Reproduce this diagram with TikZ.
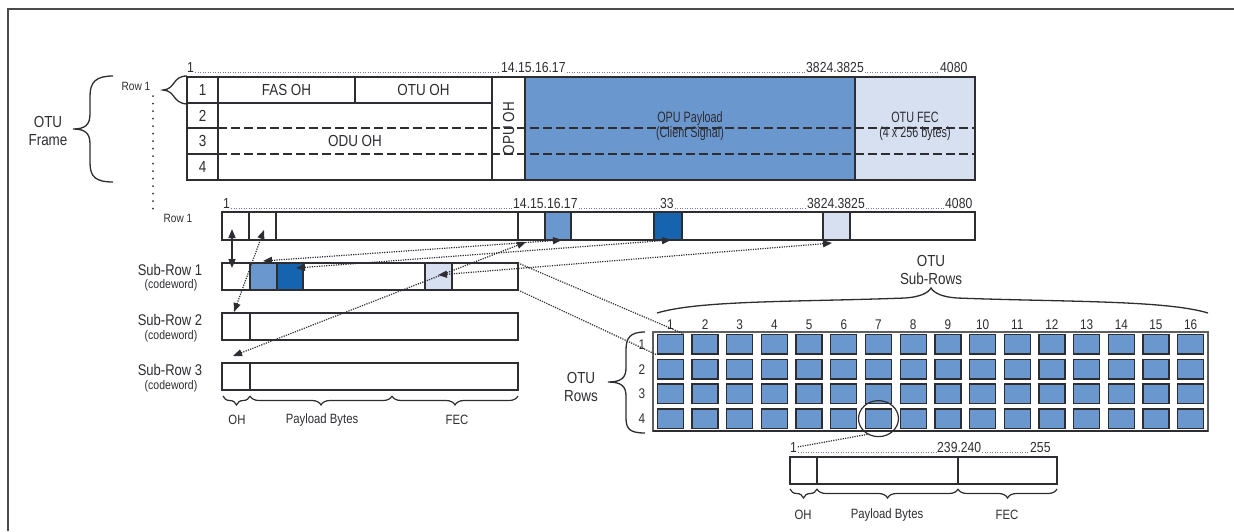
\documentclass[tikz,border=0pt]{standalone}
\usepackage{fontspec}
\setmainfont{Liberation Sans}[FakeStretch=0.84]
\newfontfamily\condfont{Liberation Sans}[FakeStretch=0.72]
\usetikzlibrary{arrows.meta,decorations.pathreplacing,shapes.geometric}
\definecolor{payblue}{RGB}{107,151,207}
\definecolor{darkblue}{RGB}{22,100,176}
\definecolor{paleblue}{RGB}{214,224,241}
\definecolor{ink}{RGB}{45,45,50}
\definecolor{dotc}{RGB}{120,115,170}
\definecolor{framec}{RGB}{75,75,75}
\definecolor{gridc}{RGB}{95,95,95}
\newcommand\mybox[6]{%
  \node[#6, minimum width={#4pt-#2pt}, minimum height={#5pt-#3pt}] (#1) at ({(#2+#4)/2},{(#3+#5)/2}) {};}
\begin{document}
\begin{tikzpicture}[x=1pt,y=-1pt,
  >={Triangle[length=9pt,width=7pt]},
  boxst/.style={draw=ink, line width=1.3pt, inner sep=0pt, outer sep=0pt, fill=white},
  gcell/.style={draw=ink, line width=1.3pt, fill=payblue, inner sep=0pt, minimum width=26pt, minimum height=19.5pt},
  txt/.style={inner sep=0pt, text=ink, font=\fontsize{16}{18}\selectfont},
  ctxt/.style={inner sep=0pt, text=ink, align=center, font=\condfont\fontsize{15}{15}\selectfont},
  numl/.style={inner sep=0pt, text=ink, font=\fontsize{14.5}{16}\selectfont},
  rowl/.style={inner sep=0pt, text=ink, font=\fontsize{12}{14}\selectfont},
  subl/.style={inner sep=0pt, text=ink, font=\fontsize{15.5}{17}\selectfont},
  codel/.style={inner sep=0pt, text=ink, font=\fontsize{12.5}{14}\selectfont},
  smalll/.style={inner sep=0pt, text=ink, font=\fontsize{13.5}{15}\selectfont},
  gnum/.style={inner sep=0pt, text=ink, font=\fontsize{14}{16}\selectfont},
  dotline/.style={draw=dotc, line width=1pt, dash pattern=on 1pt off 1.5pt, shorten <=1pt, shorten >=1pt},
  dotst/.style={draw=ink, line width=1.2pt, dash pattern=on 1.2pt off 1.2pt},
  dashst/.style={draw=ink, line width=1.3pt, dash pattern=on 9pt off 4pt},
  bracest/.style={draw=ink, line width=1.3pt},
  dbrace/.style={draw=ink, line width=1.2pt, decorate, decoration={brace, mirror, amplitude=9pt}},
  vdots/.style={draw=ink, line width=2pt, line cap=round, dash pattern=on 0pt off 7.5pt}
]
\useasboundingbox (0,0) rectangle (1234,531);
% page frame
\draw[framec, line width=2pt] (8,531) -- (8,9) -- (1234,9);

% ---------- OTU frame table ----------
\mybox{tbl}{187}{77}{975}{180}{boxst}
\mybox{pay}{525}{77}{855}{180}{boxst, fill=payblue}
\mybox{fec}{855}{77}{975}{180}{boxst, fill=paleblue}
\mybox{opuoh}{492}{77}{525}{180}{boxst}
\mybox{n1}{187}{77}{218}{103}{boxst}
\mybox{n2}{187}{103}{218}{128}{boxst}
\mybox{n3}{187}{128}{218}{154}{boxst}
\mybox{n4}{187}{154}{218}{180}{boxst}
\mybox{fas}{218}{77}{355}{103}{boxst}
\mybox{otuoh}{355}{77}{492}{103}{boxst}
\draw[dashst] (218,128) -- (975,128);
\draw[dashst] (218,154) -- (975,154);
\node[txt] at (n1) {1};
\node[txt] at (n2) {2};
\node[txt] at (n3) {3};
\node[txt] at (n4) {4};
\node[txt] at (fas) {FAS OH};
\node[txt] at (otuoh) {OTU OH};
\node[txt] (oduoh) at (355,141) {ODU OH};
\node[txt, rotate=90] at (opuoh) {OPU OH};
\node[ctxt] at (690,126) {OPU Payload\\(Client Signal)};
\node[ctxt] at (915,126) {OTU FEC\\(4 x 256 bytes)};

% column numbers of frame
\node[numl, anchor=base west] (t1) at (187,72) {1};
\node[numl, anchor=base west] (t2) at (501,72) {14.15.16.17};
\node[numl, anchor=base west] (t3) at (806,72) {3824.3825};
\node[numl, anchor=base west] (t4) at (940,72) {4080};
\draw[dotline] (t1.base east) -- (t2.base west);
\draw[dotline] (t2.base east) -- (t3.base west);
\draw[dotline] (t3.base east) -- (t4.base west);

% OTU frame brace and label
\node[txt, align=center, font=\fontsize{16}{18}\selectfont] (otuf) at (48,131) {OTU\\Frame};
\draw[bracest] (113,76) .. controls (96,76) and (90,82) .. (90,96) -- (90,114)
  .. controls (90,125) and (85,129) .. (73,129) .. controls (85,129) and (90,133) .. (90,144)
  -- (90,163) .. controls (90,177) and (96,182) .. (113,182);
\node[rowl] (rowa) at (136,86) {Row 1};
\draw[bracest] (187,76) .. controls (172,76) and (176,89) .. (163,90)
  .. controls (176,91) and (172,103) .. (187,104);
\coordinate (vdend) at (153,210);
\draw[vdots] (153,96) -- (vdend);

% ---------- Row 1 expanded ----------
\node[rowl] (rowb) at (178,218) {Row 1};
\mybox{r1}{222}{212}{975}{240}{boxst}
\mybox{r1a}{222}{212}{249}{240}{boxst}
\mybox{r1b}{249}{212}{276}{240}{boxst}
\mybox{r1c}{518}{212}{545}{240}{boxst}
\mybox{r1d}{545}{212}{571}{240}{boxst, fill=payblue}
\mybox{r1e}{654}{212}{682}{240}{boxst, fill=darkblue}
\mybox{r1f}{823}{212}{850}{240}{boxst, fill=paleblue}
\node[numl, anchor=base west] (u1) at (223,208) {1};
\node[numl, anchor=base west] (u2) at (513,208) {14.15.16.17};
\node[numl, anchor=base west] (u3) at (660,208) {33};
\node[numl, anchor=base west] (u4) at (807,208) {3824.3825};
\node[numl, anchor=base west] (u5) at (945,208) {4080};
\draw[dotline] (u1.base east) -- (u2.base west);
\draw[dotline] (u2.base east) -- (u3.base west);
\draw[dotline] (u3.base east) -- (u4.base west);
\draw[dotline] (u4.base east) -- (u5.base west);

% ---------- Sub-rows ----------
\mybox{s1}{222}{263}{518}{290}{boxst}
\mybox{s1a}{222}{263}{250}{290}{boxst}
\mybox{s1b}{250}{263}{277}{290}{boxst, fill=payblue}
\mybox{s1c}{277}{263}{303}{290}{boxst, fill=darkblue}
\mybox{s1d}{425}{263}{452}{290}{boxst, fill=paleblue}
\mybox{s2}{222}{313}{518}{340}{boxst}
\mybox{s2a}{222}{313}{250}{340}{boxst}
\mybox{s3}{222}{363}{518}{390}{boxst}
\mybox{s3a}{222}{363}{250}{390}{boxst}
\node[subl] (sl1) at (170,270) {Sub-Row 1};
\node[codel] (cl1) at (171,285) {(codeword)};
\node[subl] (sl2) at (170,320) {Sub-Row 2};
\node[codel] (cl2) at (171,336) {(codeword)};
\node[subl] (sl3) at (170,370) {Sub-Row 3};
\node[codel] (cl3) at (171,386) {(codeword)};
\draw[dbrace] (223,396) -- (250,396);
\draw[dbrace] (250,396) -- (392,396);
\draw[dbrace] (392,396) -- (518,396);
\node[smalll] (ohl) at (237,420) {OH};
\node[smalll] (pbl) at (322,420) {Payload Bytes};
\node[smalll] (fecl) at (457,420) {FEC};

% ---------- mapping arrows ----------
\coordinate (a1s) at (232,268); \coordinate (a1t) at (232,229);
\coordinate (a2s) at (234,312); \coordinate (a2t) at (264,230);
\coordinate (a3s) at (233,356); \coordinate (a3t) at (526,242);
\coordinate (a4s) at (263,261); \coordinate (a4t) at (562,240);
\coordinate (a5s) at (296,268); \coordinate (a5t) at (671,240);
\coordinate (a6s) at (438,275); \coordinate (a6t) at (832,243);
\draw[ink, line width=1.5pt, <->] (a1s) -- (a1t);
\draw[dotst, <->] (a2s) -- (a2t);
\draw[dotst, <->] (a3s) -- (a3t);
\draw[dotst, <->] (a4s) -- (a4t);
\draw[dotst, <->] (a5s) -- (a5t);
\draw[dotst, <->] (a6s) -- (a6t);

% ---------- OTU grid ----------
\mybox{grid}{653}{332}{1208}{431}{draw=gridc, line width=2pt, inner sep=0pt, outer sep=0pt, fill=white}
\draw[ink, line width=2.5pt] (grid.south west) -- (grid.south east);
\foreach \i in {1,...,16}{
  \foreach \j in {1,...,4}{
    \node[gcell] (g-\i-\j) at ({653+(\i-0.5)*34.6875},{332+(\j-0.5)*24.75}) {};
  }
  \node[gnum] (c-\i) at ({653+(\i-0.5)*34.6875},325) {\i};
}
\foreach \j in {1,...,4}{
  \node[gnum] (rl-\j) at (642,{332+(\j-0.5)*24.75}) {\j};
}
\node[txt, align=center] (otus) at (931,270) {OTU\\Sub-Rows};
\draw[bracest] (657,313) .. controls (700,300) and (800,302) .. (905,298)
  .. controls (920,297) and (928,293) .. (931,288) .. controls (934,293) and (942,297) .. (957,298)
  .. controls (1062,302) and (1165,300) .. (1208,313);
\node[txt, align=center] (otur) at (581,387) {OTU\\Rows};
\draw[bracest] (645,332) .. controls (630,332) and (626,338) .. (626,350) -- (626,368)
  .. controls (626,378) and (621,382) .. (608,382) .. controls (621,382) and (626,386) .. (626,396)
  -- (626,418) .. controls (626,429) and (630,433) .. (645,433);
\draw[dotst] (s1.north east) -- (g-1-1.north east);
\draw[dotst] (s1.south east) -- (g-1-1.south west);

% ---------- codeword detail ----------
\node[ellipse, draw=ink, line width=1.2pt, minimum width=40pt, minimum height=36pt, inner sep=0pt] (circ) at (g-7-4) {};
\mybox{cw}{790}{457}{1057}{484}{boxst}
\mybox{cwa}{790}{457}{817}{484}{boxst}
\mybox{cwc}{958}{457}{1057}{484}{boxst}
\node[numl, anchor=base west] (v1) at (790,452) {1};
\node[numl, anchor=base west] (v2) at (937,452) {239.240};
\node[numl, anchor=base west] (v3) at (1030,452) {255};
\draw[dotline] (v1.base east) -- (v2.base west);
\draw[dotline] (v2.base east) -- (v3.base west);
\draw[dotst] (circ.235) -- (v1.east);
\draw[dbrace] (790,489) -- (817,489);
\draw[dbrace] (817,489) -- (958,489);
\draw[dbrace] (958,489) -- (1057,489);
\node[smalll] (oh2) at (803,515) {OH};
\node[smalll] (pb2) at (887,515) {Payload Bytes};
\node[smalll] (fec2) at (1007,515) {FEC};
\end{tikzpicture}
\end{document}
